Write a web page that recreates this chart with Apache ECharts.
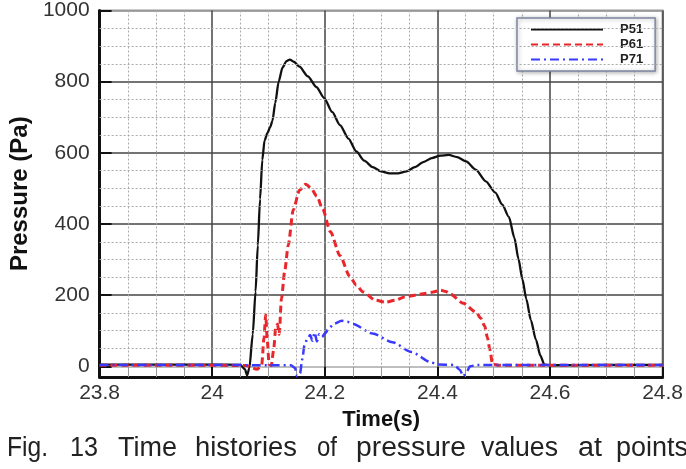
<!DOCTYPE html>
<html>
<head>
<meta charset="utf-8">
<script src="https://cdn.jsdelivr.net/npm/echarts@6/dist/echarts.min.js"></script>
<style>
html,body{margin:0;padding:0;background:#fff;}
#chart{width:686px;height:469px;}
</style>
</head>
<body>
<div id="chart"></div>
<script>
// ---- data (time in s, pressure in Pa) ----
const t51 = [23.80, 23.90, 24.00, 24.05, 24.058, 24.062, 24.066, 24.072, 24.077, 24.081, 24.085, 24.089, 24.093, 24.098, 24.103, 24.107, 24.112, 24.118, 24.125, 24.132, 24.138, 24.145, 24.155, 24.170, 24.185, 24.199, 24.213, 24.227, 24.242, 24.256, 24.270, 24.285, 24.300, 24.315, 24.330, 24.345, 24.360, 24.375, 24.390, 24.405, 24.420, 24.435, 24.451, 24.468, 24.486, 24.503, 24.515, 24.527, 24.537, 24.544, 24.551, 24.558, 24.566, 24.575, 24.583, 24.590, 24.600, 24.700, 24.800];
const p51 = [5, 5, 5, 4, -8, -25, -5, 90, 210, 340, 470, 580, 635, 655, 672, 690, 740, 800, 840, 858, 862, 856, 842, 815, 785, 754, 715, 678, 640, 604, 578, 560, 548, 542, 542, 548, 560, 574, 585, 592, 594, 588, 576, 553, 520, 488, 455, 420, 360, 302, 245, 189, 130, 75, 30, 5, 3, 4, 4];

const t61 = [23.80, 23.90, 24.00, 24.06, 24.08, 24.088, 24.092, 24.095, 24.098, 24.101, 24.105, 24.109, 24.113, 24.116, 24.119, 24.123, 24.129, 24.135, 24.144, 24.155, 24.166, 24.175, 24.186, 24.196, 24.210, 24.227, 24.244, 24.256, 24.268, 24.290, 24.308, 24.325, 24.342, 24.372, 24.390, 24.406, 24.415, 24.423, 24.446, 24.469, 24.477, 24.484, 24.489, 24.493, 24.498, 24.510, 24.600, 24.800];
const p61 = [3, 3, 3, 2, -8, 5, 80, 145, 70, 5, 2, 45, 110, 118, 90, 190, 270, 340, 440, 495, 512, 502, 478, 443, 378, 311, 254, 228, 209, 186, 180, 186, 195, 203, 208, 214, 210, 203, 177, 152, 135, 113, 80, 48, 6, 3, 3, 3];

const t71 = [23.80, 24.00, 24.10, 24.140, 24.147, 24.151, 24.156, 24.160, 24.164, 24.169, 24.174, 24.178, 24.182, 24.186, 24.190, 24.195, 24.200, 24.208, 24.216, 24.230, 24.240, 24.250, 24.285, 24.320, 24.354, 24.389, 24.400, 24.430, 24.440, 24.446, 24.452, 24.458, 24.470, 24.800];
const p71 = [4, 4, 3, 3, -5, -28, -20, 20, 60, 78, 88, 72, 95, 70, 90, 82, 92, 108, 119, 128, 125, 119, 92, 68, 40, 11, 5, 4, -10, -28, -15, 0, 4, 4];

const seriesNames = ['P51', 'P61', 'P71'];
const xTickMin = 23.8, xTickMax = 24.8, xTickStep = 0.2;
const yMin = -30, yMax = 1000;
const yMinorGrid = [50, 100, 150, 250, 300, 350, 450, 500, 550, 650, 700, 750, 850, 900, 950];
const captionWords = ['Fig.', '13', 'Time', 'histories', 'of', 'pressure', 'values', 'at', 'points'];

// ---- layout / style ----
const captionX = [7, 70, 118, 195, 317, 356, 481, 578, 616];
const captionW = [41, 28, 59, 102, 20, 110, 77, 24, 72];
const CAP_SIZE = 27;
const FONT = '"Liberation Sans", Arial, sans-serif';
const zip = (a, b) => a.map((v, i) => [v, b[i]]);

const measureCtx = document.createElement('canvas').getContext('2d');
measureCtx.font = CAP_SIZE + 'px ' + FONT;

const chart = echarts.init(document.getElementById('chart'), null, {renderer: 'canvas'});
const option = {
  animation: false,
  backgroundColor: '#fff',
  grid: {left: 86, right: 21, top: 10, bottom: 92, show: true, borderColor: '#999', borderWidth: 2, backgroundColor: 'transparent'},
  legend: {
    orient: 'vertical', left: 517, top: 18,
    padding: [5, 12, 5, 13],
    itemWidth: 72, itemHeight: 14, itemGap: 2,
    backgroundColor: '#fff', borderColor: '#7d87a0', borderWidth: 1.5,
    shadowBlur: 4, shadowColor: 'rgba(0,0,0,0.3)', shadowOffsetX: 1, shadowOffsetY: 1,
    itemStyle: {opacity: 0},
    textStyle: {fontFamily: FONT, fontWeight: 'bold', fontSize: 13, color: '#222', padding: [0, 0, 0, 12]},
    data: seriesNames
  },
  xAxis: {
    type: 'value', min: xTickMin, max: xTickMax, interval: xTickStep,
    name: 'Time(s)', nameLocation: 'middle', nameGap: 24,
    nameTextStyle: {fontFamily: FONT, fontWeight: 'bold', fontSize: 22, color: '#111'},
    axisLine: {show: true, onZero: false, lineStyle: {color: '#111', width: 3}},
    axisTick: {show: true, inside: true, length: 10, lineStyle: {color: '#111', width: 2}},
    minorTick: {show: true, splitNumber: 4, length: 10, lineStyle: {color: '#999', width: 1}},
    axisLabel: {fontFamily: FONT, fontSize: 21, color: '#333', margin: 6},
    splitLine: {show: true, lineStyle: {color: '#444', width: 1.5}},
    minorSplitLine: {show: true, lineStyle: {color: '#aaa', width: 1, type: [2, 2]}}
  },
  yAxis: {
    type: 'value', min: yMin, max: yMax, splitNumber: 5,
    name: 'Pressure (Pa)', nameLocation: 'middle', nameGap: 56, nameRotate: 90,
    nameTextStyle: {fontFamily: FONT, fontWeight: 'bold', fontSize: 24, color: '#111'},
    axisLine: {show: true, lineStyle: {color: '#111', width: 3}},
    axisTick: {show: true, inside: true, length: 12, lineStyle: {color: '#111', width: 2}},
    axisLabel: {fontFamily: FONT, fontSize: 21, color: '#333', margin: 10, showMinLabel: false,
      formatter: v => String(v)},
    splitLine: {show: true, lineStyle: {color: ['#444', '#a8a8a8', '#444', '#444', '#444', '#444', '#999'], width: 1.5}}
  },
  series: [
    {
      name: seriesNames[0], type: 'line', data: zip(t51, p51), showSymbol: false, symbol: 'none',
      smooth: 0.25, smoothMonotone: 'x',
      lineStyle: {color: '#111', width: 2.3}, itemStyle: {color: '#111'},
      markLine: {
        silent: true, symbol: ['none', 'none'], label: {show: false}, animation: false,
        lineStyle: {color: '#aaa', width: 1, type: [2, 2]},
        emphasis: {disabled: true},
        data: yMinorGrid.map(v => ({yAxis: v}))
      }
    },
    {
      name: seriesNames[1], type: 'line', data: zip(t61, p61), showSymbol: false, symbol: 'none',
      smooth: 0.25, smoothMonotone: 'x',
      lineStyle: {color: '#e8262b', width: 3, type: [7, 4]}, itemStyle: {color: '#e8262b'}
    },
    {
      name: seriesNames[2], type: 'line', data: zip(t71, p71), showSymbol: false, symbol: 'none',
      smooth: 0.25, smoothMonotone: 'x',
      lineStyle: {color: '#3a3aff', width: 2.5, type: [9, 4, 2, 4]}, itemStyle: {color: '#3a3aff'}
    }
  ],
  graphic: captionWords.map((w, i) => {
    const natural = measureCtx.measureText(w).width;
    return {
      type: 'text', x: captionX[i], y: 449, silent: true,
      scaleX: captionW[i] / natural,
      style: {text: w, fill: '#222', fontSize: CAP_SIZE, fontFamily: FONT, verticalAlign: 'middle', align: 'left'}
    };
  })
};
chart.setOption(option);
</script>
</body>
</html>
